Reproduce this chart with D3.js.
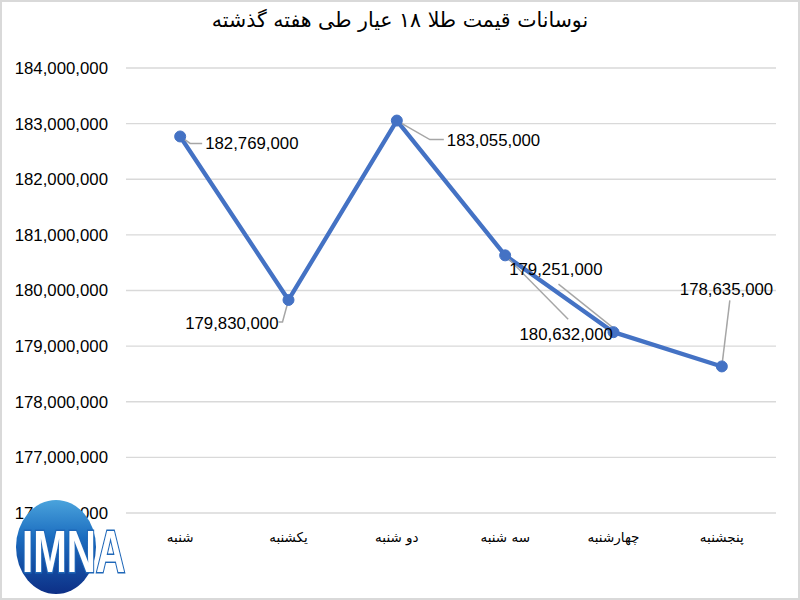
<!DOCTYPE html>
<html><head><meta charset="utf-8">
<script src="https://cdn.jsdelivr.net/npm/d3@7"></script>
<style>body{margin:0;background:#fff}svg{display:block}</style>
</head><body>
<script>
const categories = ["شنبه","یکشنبه","دو شنبه","سه شنبه","چهارشنبه","پنجشنبه"];
const values = [182769000,179830000,183055000,180632000,179251000,178635000];
const yTicks = [176000000,177000000,178000000,179000000,180000000,181000000,182000000,183000000,184000000];
const titleText = "نوسانات قیمت طلا ۱۸ عیار طی هفته گذشته";
// in the reference the labels of points 4 and 5 are dragged past each other
const labelValueIndex = [0,1,2,4,3,5];
const labelOffsets = [
  {dx:25, dy:7, anchor:"start", leader:[[0,0],[10,7],[22,7]]},
  {dx:-10, dy:23, anchor:"end", leader:[[0,0],[-6,22],[-10,22]]},
  {dx:50, dy:20, anchor:"start", leader:[[0,0],[33,19],[47,19]]},
  {dx:4, dy:14, anchor:"start", leader:[[0,0],[63,64]]},
  {dx:-94, dy:2, anchor:"start", leader:[[0,-4],[-55,-48]]},
  {dx:-42, dy:-77, anchor:"start", leader:[[0,0],[8,-66]]}
];

const W=800,H=600;
const svg=d3.select("body").append("svg").attr("width",W).attr("height",H);
svg.append("rect").attr("x",0.5).attr("y",0.5).attr("width",W-1).attr("height",H-1)
  .attr("fill","#fff").attr("stroke","#d9d9d9").attr("stroke-width",3);

const x=d3.scaleBand().domain(categories.map((d,i)=>i)).range([126,776]);
const y=d3.scaleLinear().domain([176000000,184000000]).range([513,68]);

svg.append("text").attr("x",400).attr("y",27).attr("text-anchor","middle")
  .attr("font-family","DejaVu Sans").attr("font-size",20.5).attr("fill","#000")
  .attr("direction","rtl").text(titleText);

const grid=svg.append("g");
grid.selectAll("line").data(yTicks).join("line")
  .attr("x1",126).attr("x2",776).attr("y1",d=>y(d)).attr("y2",d=>y(d))
  .attr("stroke","#d9d9d9").attr("stroke-width",1.3);

const fmt=d3.format(",");
const yAxis=d3.axisLeft(y).tickValues(yTicks).tickFormat(fmt).tickSize(0).tickPadding(18);
const ya=svg.append("g").attr("transform","translate(126,0)").call(yAxis);
ya.select(".domain").remove();
ya.selectAll("text").attr("font-family","Liberation Sans, Arial").attr("font-size",16.8).attr("fill","#000");

const xAxis=d3.axisBottom(x).tickFormat(i=>categories[i]).tickSize(0).tickPadding(19);
const xa=svg.append("g").attr("transform","translate(0,513)").call(xAxis);
xa.select(".domain").remove();
xa.selectAll("text").attr("font-family","DejaVu Sans").attr("font-size",13.5).attr("fill","#000").attr("direction","rtl");

const cx=i=>x(i)+x.bandwidth()/2;
const line=d3.line().x((d,i)=>cx(i)).y(d=>y(d));
svg.append("path").datum(values).attr("d",line).attr("fill","none")
  .attr("stroke","#4472C4").attr("stroke-width",4.3).attr("stroke-linejoin","round");

values.forEach((v,i)=>{
  const o=labelOffsets[i];
  const px=cx(i),py=y(v);
  svg.append("polyline").attr("points",o.leader.map(p=>[px+p[0],py+p[1]].join(",")).join(" "))
    .attr("fill","none").attr("stroke","#a6a6a6").attr("stroke-width",1.5);
});

svg.selectAll("circle.pt").data(values).join("circle").attr("class","pt")
  .attr("cx",(d,i)=>cx(i)).attr("cy",d=>y(d)).attr("r",5.5)
  .attr("fill","#4472C4").attr("stroke","#4472C4");

values.forEach((v,i)=>{
  const o=labelOffsets[i];
  svg.append("text").attr("x",cx(i)+o.dx).attr("y",y(v)+o.dy).attr("dy","0.35em")
    .attr("text-anchor",o.anchor).attr("font-family","Liberation Sans, Arial").attr("font-size",16.8)
    .attr("fill","#000").text(fmt(values[labelValueIndex[i]]));
});

// IMNA logo
const defs=svg.append("defs");
const g=defs.append("linearGradient").attr("id","lg").attr("x1",0).attr("y1",0).attr("x2",0).attr("y2",1);
g.append("stop").attr("offset","0%").attr("stop-color","#4aa3dc");
g.append("stop").attr("offset","40%").attr("stop-color","#1b6cbf");
g.append("stop").attr("offset","100%").attr("stop-color","#0d2f86");
const logo=svg.append("g");
logo.append("ellipse").attr("cx",56).attr("cy",547).attr("rx",40).attr("ry",47).attr("fill","url(#lg)");
logo.append("text").attr("x",22).attr("y",572).attr("text-anchor","start")
  .attr("font-family","Liberation Sans, Arial").attr("font-weight","bold").attr("font-size",60)
  .attr("fill","#fff").attr("stroke","#1f67b8").attr("stroke-width",3).attr("paint-order","stroke")
  .attr("textLength",103).attr("lengthAdjust","spacingAndGlyphs").text("IMNA");
</script>
</body></html>
